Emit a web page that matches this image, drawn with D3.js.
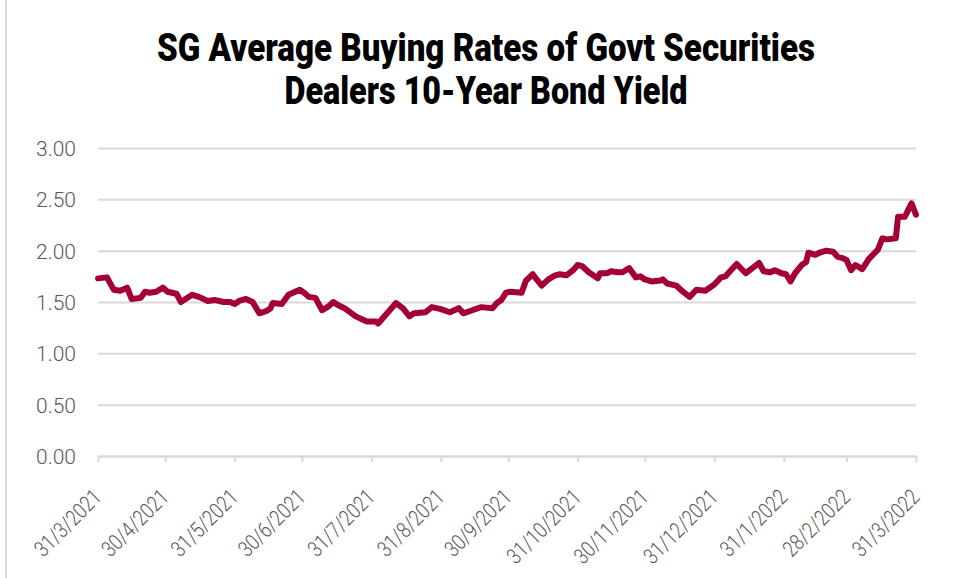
<!DOCTYPE html>
<html>
<head>
<meta charset="utf-8">
<script src="https://cdn.jsdelivr.net/npm/d3@7"></script>
<style>
  html, body { margin: 0; padding: 0; background: #ffffff; }
  svg { display: block; }
</style>
</head>
<body>
<svg id="chart" width="954" height="578"></svg>
<script>
const titleLines = ["SG Average Buying Rates of Govt Securities", "Dealers 10-Year Bond Yield"];

const dates = [
  "2021-03-31","2021-04-04","2021-04-07","2021-04-10","2021-04-13","2021-04-15","2021-04-19","2021-04-21","2021-04-23","2021-04-26","2021-04-29",
  "2021-05-01","2021-05-05","2021-05-07","2021-05-12","2021-05-15","2021-05-19","2021-05-22","2021-05-26","2021-05-29","2021-05-31",
  "2021-06-02","2021-06-05","2021-06-08","2021-06-11","2021-06-14","2021-06-16","2021-06-17","2021-06-21","2021-06-24","2021-06-26","2021-06-29",
  "2021-07-01","2021-07-03","2021-07-06","2021-07-09","2021-07-12","2021-07-14","2021-07-16","2021-07-19","2021-07-24","2021-07-27","2021-07-29",
  "2021-08-02","2021-08-03","2021-08-07","2021-08-11","2021-08-14","2021-08-17","2021-08-19","2021-08-24","2021-08-27","2021-08-31",
  "2021-09-04","2021-09-08","2021-09-10","2021-09-14","2021-09-18","2021-09-23","2021-09-25","2021-09-27","2021-09-29",
  "2021-10-01","2021-10-06","2021-10-08","2021-10-11","2021-10-12","2021-10-15","2021-10-18","2021-10-21","2021-10-23","2021-10-26","2021-10-29","2021-10-31",
  "2021-11-02","2021-11-05","2021-11-09","2021-11-10","2021-11-13","2021-11-15","2021-11-18","2021-11-20","2021-11-23","2021-11-26","2021-11-28","2021-11-30",
  "2021-12-03","2021-12-07","2021-12-08","2021-12-10","2021-12-14","2021-12-17","2021-12-20","2021-12-23","2021-12-27","2021-12-31",
  "2022-01-03","2022-01-05","2022-01-07","2022-01-10","2022-01-14","2022-01-17","2022-01-20","2022-01-22","2022-01-25","2022-01-27","2022-01-30",
  "2022-02-01","2022-02-03","2022-02-05","2022-02-08","2022-02-10","2022-02-11","2022-02-14","2022-02-16","2022-02-19","2022-02-22","2022-02-24","2022-02-26","2022-02-28",
  "2022-03-02","2022-03-04","2022-03-07","2022-03-10","2022-03-14","2022-03-16","2022-03-18","2022-03-22","2022-03-23","2022-03-26","2022-03-29","2022-03-31"
];

const yields = [
  1.73,1.74,1.62,1.61,1.64,1.53,1.54,1.60,1.59,1.60,1.64,
  1.60,1.58,1.50,1.57,1.55,1.51,1.52,1.50,1.50,1.48,
  1.51,1.53,1.50,1.39,1.41,1.44,1.49,1.48,1.57,1.59,1.62,
  1.59,1.55,1.54,1.42,1.46,1.50,1.47,1.44,1.36,1.33,1.31,
  1.31,1.29,1.39,1.49,1.44,1.36,1.39,1.40,1.45,1.43,
  1.40,1.44,1.39,1.42,1.45,1.44,1.49,1.52,1.59,
  1.60,1.59,1.71,1.77,1.74,1.66,1.72,1.76,1.77,1.76,1.81,1.86,
  1.85,1.79,1.73,1.78,1.78,1.80,1.79,1.79,1.83,1.74,1.75,1.72,
  1.70,1.71,1.72,1.68,1.66,1.60,1.55,1.62,1.61,1.67,
  1.74,1.75,1.80,1.87,1.78,1.83,1.88,1.80,1.79,1.81,1.78,
  1.77,1.70,1.78,1.86,1.89,1.98,1.96,1.98,2.00,1.99,1.94,1.93,1.91,
  1.81,1.86,1.82,1.92,2.01,2.12,2.11,2.12,2.33,2.33,2.46,2.35
];

const xTickDates = ["2021-03-31","2021-04-30","2021-05-31","2021-06-30","2021-07-31","2021-08-31","2021-09-30","2021-10-31","2021-11-30","2021-12-31","2022-01-31","2022-02-28","2022-03-31"];
const xTickLabels = ["31/3/2021","30/4/2021","31/5/2021","30/6/2021","31/7/2021","31/8/2021","30/9/2021","31/10/2021","30/11/2021","31/12/2021","31/1/2022","28/2/2022","31/3/2022"];
const yTicks = [0, 0.5, 1.0, 1.5, 2.0, 2.5, 3.0];

const parse = d3.utcParse("%Y-%m-%d");
const data = dates.map((d, i) => ({ date: parse(d), value: yields[i] }));

const svg = d3.select("#chart");
const W = 954, H = 578;
const margin = { left: 98, right: 38, top: 148, bottom: 122 };

const x = d3.scaleUtc()
  .domain([parse(xTickDates[0]), parse(xTickDates[xTickDates.length - 1])])
  .range([margin.left, W - margin.right]);
const y = d3.scaleLinear().domain([0, 3]).range([H - margin.bottom, margin.top]);

const gray = "#d9d9d9";
const textColor = "#595959";
const font = "Roboto, 'Liberation Sans', sans-serif";

// left frame edge
svg.append("line").attr("x1", 6).attr("x2", 6).attr("y1", 0).attr("y2", H)
  .attr("stroke", gray).attr("stroke-width", 2);

// title
const titleBaselines = [61, 104];
const titleWidths = [658, 403];
titleLines.forEach((t, i) => {
  svg.append("text")
    .attr("x", 486).attr("y", titleBaselines[i])
    .attr("text-anchor", "middle")
    .attr("font-family", font)
    .attr("font-weight", 900)
    .attr("font-size", 39)
    .attr("fill", "#000")
    .attr("textLength", titleWidths[i])
    .attr("lengthAdjust", "spacingAndGlyphs")
    .text(t);
});

// y gridlines + labels via axis
const yAxis = d3.axisLeft(y).tickValues(yTicks).tickFormat(d3.format(".2f"))
  .tickSize(-(W - margin.left - margin.right)).tickPadding(22);
const gy = svg.append("g").attr("transform", `translate(${margin.left},0)`).call(yAxis);
gy.select(".domain").remove();
gy.selectAll(".tick line").attr("stroke", gray).attr("stroke-width", 2);
gy.selectAll(".tick text").attr("fill", textColor).attr("font-family", font)
  .attr("font-weight", 300).attr("font-size", 21).attr("dy", "0.36em");

// x axis
const xAxis = d3.axisBottom(x).tickValues(xTickDates.map(parse))
  .tickFormat((d, i) => xTickLabels[i]).tickSize(6).tickSizeOuter(0);
const gx = svg.append("g").attr("transform", `translate(0,${H - margin.bottom})`).call(xAxis);
gx.select(".domain").attr("stroke", gray).attr("stroke-width", 2);
gx.selectAll(".tick line").attr("stroke", gray).attr("stroke-width", 2);
gx.selectAll(".tick text")
  .attr("fill", textColor).attr("font-family", font).attr("font-weight", 300).attr("font-size", 22)
  .attr("text-anchor", "end")
  .attr("y", 0).attr("dy", "0.35em")
  .attr("transform", "translate(-1,37) rotate(-45)")
  .each(function () {
    const len = this.getComputedTextLength();
    d3.select(this).attr("textLength", len * 0.82).attr("lengthAdjust", "spacingAndGlyphs");
  });

// line
const line = d3.line().x(d => x(d.date)).y(d => y(d.value));
svg.append("path").datum(data)
  .attr("d", line)
  .attr("fill", "none")
  .attr("stroke", "#a50034")
  .attr("stroke-width", 6)
  .attr("stroke-linejoin", "round")
  .attr("stroke-linecap", "round");
</script>
</body>
</html>
